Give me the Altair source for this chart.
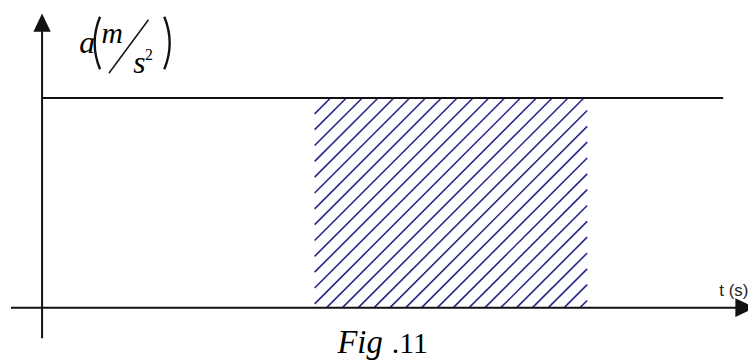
import math
import altair as alt
import pandas as pd

# ---------------- data (t in s, a in m/s^2 units of the sketch) ----------------
a_level = [10.0]                  # constant acceleration
t_line = [0.0, 24.99]             # extent of the a = const line
t_shade = [10.0, 20.0]            # shaded interval
x_axis_t = [-1.141, 25.75]        # horizontal axis extent (a = 0)
y_axis_a = [-1.46, 13.3]          # vertical axis extent (t = 0)
arrow_up = [0.0, 13.594]          # tip marker of vertical axis (t, a)
arrow_right = [25.8, 0.0]         # tip marker of horizontal axis (t, a)
hatch_first_t = [10.44]           # where the first full hatch line meets a = 0
hatch_step_t = [0.581]            # hatch spacing along t
hatch_slope = [1.2995]            # a per t of each hatch line
hatch_k = list(range(-13, 17))    # hatch line indices

# label anchors (t, a)
lab_a = [1.363, 12.125]
lab_m = [2.180, 12.61]
lab_s = [3.342, 11.205]
lab_2 = [3.777, 11.827]
lab_fig = [10.837, -2.168]
lab_11 = [12.834, -2.168]
lab_t = [24.848, 0.568]
slash = [2.452, 11.18, 3.904, 13.73]
paren_l = [4.485, 12.62]
paren_r = [2.126, 12.62]

# ---------------- scales ----------------
X = alt.Scale(domain=[-1.25, 25.9], nice=False, zero=False)
Y = alt.Scale(domain=[-2.5, 14.2], nice=False, zero=False)
INK = "#111111"


def seg_df(rows):
    return pd.DataFrame(rows, columns=["t1", "a1", "t2", "a2"])


def rules(df, color=INK, width=2.0):
    return alt.Chart(df).mark_rule(color=color, strokeWidth=width).encode(
        x=alt.X("t1:Q", scale=X, axis=None),
        x2="t2:Q",
        y=alt.Y("a1:Q", scale=Y, axis=None),
        y2="a2:Q",
    )


def segments(rows, color, width):
    long = []
    for i, (t1, a1, t2, a2) in enumerate(rows):
        long.append({"id": i, "ord": 0, "t": t1, "a": a1})
        long.append({"id": i, "ord": 1, "t": t2, "a": a2})
    df = pd.DataFrame(long)
    return alt.Chart(df).mark_line(color=color, strokeWidth=width).encode(
        x=alt.X("t:Q", scale=X, axis=None),
        y=alt.Y("a:Q", scale=Y, axis=None),
        detail="id:N",
        order="ord:Q",
    )


# axes and level line
lines = seg_df([
    [x_axis_t[0], 0.0, x_axis_t[1], 0.0],
    [0.0, y_axis_a[0], 0.0, y_axis_a[1]],
    [t_line[0], a_level[0], t_line[1], a_level[0]],
])

# hatch segments clipped to the shaded rectangle
rows = []
top = a_level[0]
for k in hatch_k:
    tb = hatch_first_t[0] + hatch_step_t[0] * k
    m = hatch_slope[0]
    ts = max(tb, t_shade[0])
    as_ = m * (ts - tb)
    if as_ >= top:
        continue
    te = min(tb + top / m, t_shade[1])
    ae = m * (te - tb)
    if te <= ts:
        continue
    rows.append([ts, as_, te, ae])


def marker(pt, path, size):
    df = pd.DataFrame({"t": [pt[0]], "a": [pt[1]]})
    return alt.Chart(df).mark_point(
        shape=path, size=size, filled=True, color=INK, opacity=1, strokeWidth=0
    ).encode(x=alt.X("t:Q", scale=X, axis=None), y=alt.Y("a:Q", scale=Y, axis=None))


def label(pt, txt, size, italic=True, font="Liberation Serif", color="black"):
    df = pd.DataFrame({"t": [pt[0]], "a": [pt[1]], "txt": [txt]})
    kw = dict(align="left", baseline="alphabetic", font=font, fontSize=size, color=color)
    if italic:
        kw["fontStyle"] = "italic"
    return alt.Chart(df).mark_text(**kw).encode(
        x=alt.X("t:Q", scale=X, axis=None),
        y=alt.Y("a:Q", scale=Y, axis=None),
        text="txt:N",
    )


half = math.asin(26.5 / 70.0)


def paren(pt, center_angle):
    df = pd.DataFrame({"t": [pt[0]], "a": [pt[1]]})
    return alt.Chart(df).mark_arc(
        theta=center_angle - half, theta2=center_angle + half,
        radius=71.4, radius2=69.0, color=INK,
    ).encode(x=alt.X("t:Q", scale=X, axis=None), y=alt.Y("a:Q", scale=Y, axis=None))


chart = alt.layer(
    segments(rows, "#26268f", 1.6),
    rules(lines),
    segments([slash], INK, 1.5),
    marker(arrow_up, "M0,-1L-0.95,1L0.95,1Z", 340),
    marker(arrow_right, "M1,0L-1,-0.95L-1,0.95Z", 400),
    paren(paren_l, 3 * math.pi / 2),
    paren(paren_r, math.pi / 2),
    label(lab_a, "a", 32),
    label(lab_m, "m", 30),
    label(lab_s, "s", 32),
    label(lab_2, "2", 16, italic=False),
    label(lab_fig, "Fig", 33),
    label(lab_11, ".11", 30, italic=False),
    label(lab_t, "t (s)", 17, italic=False, font="Liberation Sans", color="#222222"),
).properties(
    width=748, height=354, autosize=alt.AutoSizeParams(type="none"), padding=0,
    background="white",
).configure_view(stroke=None)

chart.save("out.html", embed_options={"renderer": "svg", "actions": False})
